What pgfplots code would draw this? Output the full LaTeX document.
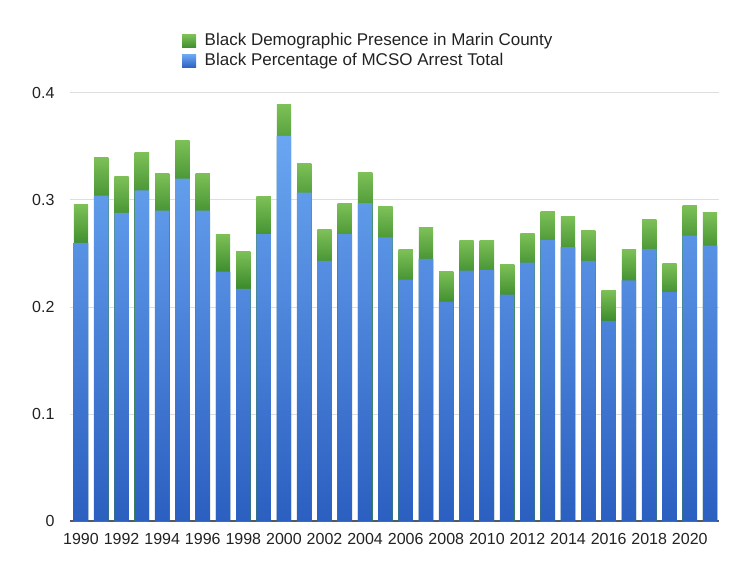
\documentclass[border=0pt]{standalone}
\usepackage{pgfplots}
\pgfplotsset{compat=1.18}
\usepackage{pgfplotstable}
\usepackage{fontspec}
\setmainfont{Liberation Sans}
\definecolor{bluetop}{HTML}{6AA6F2}
\definecolor{bluebot}{HTML}{2B5FC0}
\definecolor{greentop}{HTML}{7DC057}
\definecolor{greenbot}{HTML}{3E8D2E}
\definecolor{txt}{HTML}{222222}
\pgfdeclareverticalshading{greenbar}{100bp}{color(0bp)=(greenbot); color(68.5bp)=(greenbot); color(75bp)=(greentop); color(100bp)=(greentop)}
\pgfplotstableread{
x blue total
0 0.260 0.296
1 0.304 0.340
2 0.288 0.322
3 0.309 0.344
4 0.290 0.325
5 0.320 0.356
6 0.290 0.325
7 0.233 0.268
8 0.217 0.252
9 0.268 0.303
10 0.360 0.389
11 0.307 0.334
12 0.243 0.272
13 0.268 0.297
14 0.297 0.3255
15 0.265 0.2935
16 0.2256 0.2536
17 0.245 0.274
18 0.205 0.2336
19 0.234 0.2626
20 0.2346 0.2626
21 0.2115 0.2400
22 0.2414 0.2690
23 0.2626 0.2894
24 0.256 0.2850
25 0.243 0.2716
26 0.187 0.2156
27 0.225 0.2540
28 0.254 0.2820
29 0.214 0.2408
30 0.2667 0.2947
31 0.2573 0.2880
}\datatable
\begin{document}
\begin{tikzpicture}
\useasboundingbox (0,0) rectangle (746pt,573pt);
\begin{axis}[
  at={(70pt,52pt)}, anchor=south west,
  scale only axis, width=649pt, height=428pt,
  ybar, bar shift=0pt,
  xmin=-0.542, xmax=31.44, ymin=0, ymax=0.4,
  axis lines=left,
  y axis line style={draw=none},
  x axis line style={draw=black!65, line width=1.3pt, -},
  major tick length=0pt,
  ymajorgrids, grid style={draw=black!13, line width=1pt},
  ytick={0,0.1,0.2,0.3,0.4},
  yticklabels={0,0.1,0.2,0.3,0.4},
  xtick={0,2,...,30},
  xticklabels={1990,1992,1994,1996,1998,2000,2002,2004,2006,2008,2010,2012,2014,2016,2018,2020},
  tick label style={font=\fontsize{16}{16}\selectfont, text=txt},
  yticklabel style={xshift=-12pt},
  xticklabel style={yshift=-9pt},
  legend cell align=left,
  legend style={at={(0.168,1.148)}, anchor=north west, draw=none, fill=none,
    font=\fontsize{17}{17}\selectfont, text=txt,
    nodes={inner sep=1.5pt, text height=12.5pt, text depth=3.5pt},
    /tikz/every odd column/.append style={column sep=7pt},
    row sep=1pt},
  legend image code/.code={\path[#1, draw=none] (0pt,-6.5pt) rectangle (14pt,6.5pt);},
]
\pgfplotsinvokeforeach{0,...,31}{
  \addplot[draw=none, bar width=14.3pt, shading=greenbar, forget plot,
    restrict expr to domain={\coordindex}{#1:#1}]
    table[x=x, y=total] {\datatable};
}
\addlegendimage{draw=none, top color=greentop, bottom color=greenbot}
\addlegendentry{Black Demographic Presence in Marin County}
\addplot[draw=none, bar width=14.6pt, top color=bluetop, bottom color=bluebot] table[x=x, y=blue] {\datatable};
\addlegendentry{Black Percentage of MCSO Arrest Total}
\end{axis}
\end{tikzpicture}
\end{document}
